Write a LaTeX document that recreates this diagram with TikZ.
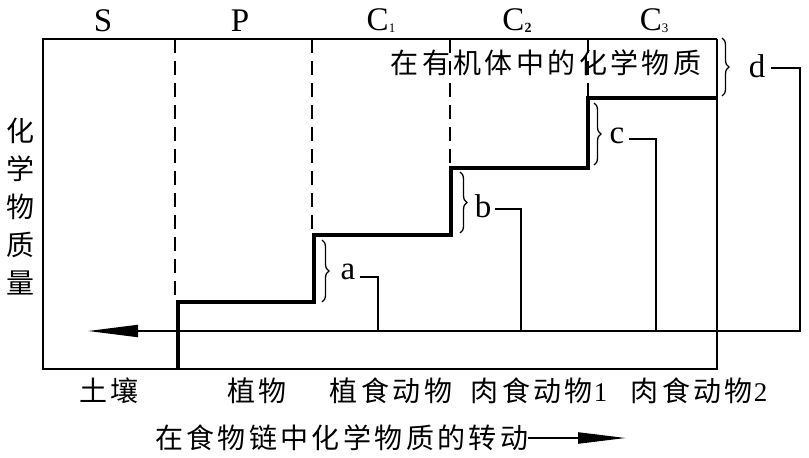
\documentclass[tikz,border=0pt]{standalone}
\usepackage{fontspec}
\setmainfont{Liberation Serif}
\newfontfamily\cjk{Noto Sans CJK SC}
\newcommand\mydigfont{\rmfamily\mdseries\fontsize{27}{27}\selectfont}
\usetikzlibrary{arrows.meta,decorations.pathreplacing}
\begin{document}
\begin{tikzpicture}[x=1pt,y=-1pt,
 thinline/.style={line width=2pt},
 thickline/.style={line width=4pt, line join=miter},
 dashline/.style={line width=2.4pt, dash pattern=on 14pt off 8pt},
 bracestyle/.style={decorate, decoration={brace, amplitude=7pt}, line width=1.3pt},
 cjktext/.style={inner sep=0pt, font=\cjk\fontsize{28}{28}\selectfont\addfontfeature{LetterSpace=12}},
 cjkvert/.style={inner sep=0pt, align=center, font=\cjk\fontsize{28}{38}\selectfont},
 latin/.style={inner sep=0pt, font=\fontsize{33}{33}\selectfont},
]
\useasboundingbox (0,0) rectangle (809,458);

% frame corners
\coordinate (TL) at (43,39);
\coordinate (TR) at (717,39);
\coordinate (BR) at (717,369);
\coordinate (BL) at (43,369);
\draw[thinline] (TR) -- (TL) -- (BL) -- (BR) -- (TR);

% dashed dividers
\coordinate (v1t) at (175,39);  \coordinate (v1b) at (175,302);
\coordinate (v2t) at (312,39);  \coordinate (v2b) at (312,235);
\coordinate (v3t) at (450,39);  \coordinate (v3b) at (450,168);
\coordinate (v4t) at (588,39);  \coordinate (v4b) at (588,98);
\draw[dashline] (v1t) -- (v1b);
\draw[dashline] (v2t) -- (v2b);
\draw[dashline] (v3t) -- (v3b);
\draw[dashline] (v4t) -- (v4b);

% step line
\coordinate (s0) at (178,369);
\coordinate (s1) at (178,302);
\coordinate (s2) at (314,302);
\coordinate (s3) at (314,235);
\coordinate (s4) at (451,235);
\coordinate (s5) at (451,168);
\coordinate (s6) at (588,168);
\coordinate (s7) at (588,98);
\coordinate (s8) at (717,98);
\draw[thickline] (s0) -- (s1) -- (s2) -- (s3) -- (s4) -- (s5) -- (s6) -- (s7) -- (s8);

% top labels
\node[latin] (nS) at (103,21) {S};
\node[latin] (nP) at (240,21) {P};
\node[latin] (nC1) at (381,21) {C\raisebox{-2pt}{\fontsize{13}{13}\selectfont 1}};
\node[latin] (nC2) at (517,21) {C\raisebox{-2pt}{\fontsize{14}{14}\selectfont\bfseries 2}};
\node[latin] (nC3) at (654,21) {C\raisebox{-2pt}{\fontsize{13}{13}\selectfont 3}};

% inner label
\node[cjktext] (org) at (546,63) {在有机体中的化学物质};

% left vertical label
\node[cjkvert] (yax) at (20,207) {化\\学\\物\\质\\量};

% bottom labels
\node[cjktext] (soil) at (109,391) {土壤};
\node[cjktext] (plant) at (257,391) {植物};
\node[cjktext] (herb) at (391,391) {植食动物};
\node[cjktext] (carn1) at (539,391) {肉食动物\hspace{1pt}{\mydigfont 1}};
\node[cjktext] (carn2) at (699,391) {肉食动物\hspace{1pt}{\mydigfont 2}};

% bottom title with arrow
\node[cjktext, anchor=west] (title) at (155,438) {在食物链中化学物质的转动};
\coordinate (titleEnd) at (626,438);
\draw[line width=2.2pt, -{Triangle[length=48pt,width=11pt]}] (title.east) -- (titleEnd);

% braces
\draw[bracestyle] (322,240) -- (322,302);
\draw[bracestyle] (460,172) -- (460,233);
\draw[bracestyle] (594,103) -- (594,165);
\draw[bracestyle] (722,38) -- (722,96);

% brace letters
\node[latin] (la) at (348,272) {a};
\node[latin] (lb) at (483,206) {b};
\node[latin] (lc) at (617,136) {c};
\node[latin] (ld) at (757,66) {d};

% return line
\coordinate (aT) at (378,277); \coordinate (aB) at (378,331);
\coordinate (bT) at (521,209); \coordinate (bB) at (521,331);
\coordinate (cT) at (656,139); \coordinate (cB) at (656,331);
\coordinate (dT) at (800,68);  \coordinate (dB) at (800,331);
\coordinate (arrowTip) at (88,331);

\draw[thinline] ([xshift=4pt]la.east |- aT) -- (aT) -- (aB);
\draw[thinline] ([xshift=4pt]lb.east |- bT) -- (bT) -- (bB);
\draw[thinline] ([xshift=4pt]lc.east |- cT) -- (cT) -- (cB);
\draw[thinline, -{Triangle[length=50pt,width=12pt]}] ([xshift=6pt]ld.east |- dT) -- (dT) -- (dB) -- (arrowTip);

\end{tikzpicture}
\end{document}
